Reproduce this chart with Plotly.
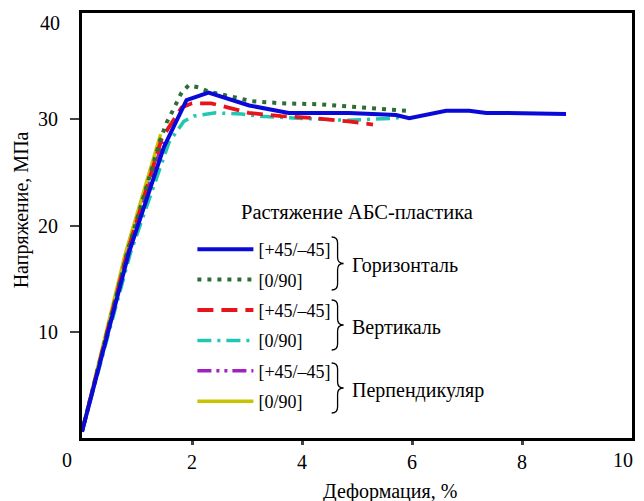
import plotly.graph_objects as go

# ---------------- data ----------------
blue_x = [0, 0.85, 1.49, 1.70, 1.90, 2.30, 3.04, 3.76, 4.85, 5.71, 5.95, 6.62, 7.04, 7.35, 7.71, 8.80]
blue_y = [0.6, 17.4, 27.4, 29.7, 31.8, 32.5, 31.3, 30.6, 30.6, 30.4, 30.1, 30.8, 30.8, 30.6, 30.6, 30.5]

green_x = [0, 0.82, 1.42, 1.54, 1.63, 1.72, 1.81, 1.94, 2.12, 2.30, 2.73, 3.09, 3.64, 4.36, 5.09, 5.89]
green_y = [0.6, 17.4, 28.0, 29.7, 30.6, 31.5, 32.5, 33.2, 33.0, 32.6, 32.1, 31.7, 31.5, 31.4, 31.1, 30.8]

red_x = [0, 0.82, 1.45, 1.81, 2.0, 2.35, 2.66, 3.03, 3.62, 4.24, 4.84, 5.29]
red_y = [0.6, 17.4, 28.2, 31.1, 31.5, 31.5, 31.1, 30.6, 30.3, 30.1, 29.8, 29.5]

cyan_x = [0, 0.88, 1.58, 1.85, 2.03, 2.43, 2.90, 3.21, 3.93, 4.84, 5.69, 5.80]
cyan_y = [0.6, 17.4, 27.8, 29.8, 30.3, 30.6, 30.5, 30.3, 30.1, 29.9, 30.1, 30.2]

purple_x = [0, 0.83, 1.47]
purple_y = [0.6, 17.4, 27.9]

yellow_x = [0, 0.79, 1.43]
yellow_y = [0.6, 17.4, 28.6]

series_names = ["[+45/–45]", "[0/90]", "[+45/–45]", "[0/90]", "[+45/–45]", "[0/90]"]
group_labels = ["Горизонталь", "Вертикаль", "Перпендикуляр"]
legend_title = "Растяжение АБС-пластика"
x_title = "Деформация, %"
y_title = "Напряжение, МПа"
x_ticks = [2, 4, 6, 8]
y_ticks = [10, 20, 30]
corner_labels = ["0", "10", "40"]

# ---------------- layout helpers ----------------
W, H = 644, 501
L, R, T, B = 82, 9, 13, 63
PW, PH = W - L - R, H - T - B
FONT = "Liberation Serif, Times New Roman, serif"


def px(x):
    return (x - L) / PW


def py(y):
    return (H - B - y) / PH


def brace(xl, y0, y1, w=12, r=6):
    xm = xl + w * 0.5
    xt = xl + w
    ym = (y0 + y1) / 2
    pts = [
        f"M{px(xl):.4f},{py(y0):.4f}",
        f"Q{px(xm):.4f},{py(y0):.4f} {px(xm):.4f},{py(y0 + r):.4f}",
        f"L{px(xm):.4f},{py(ym - r):.4f}",
        f"Q{px(xm):.4f},{py(ym):.4f} {px(xt):.4f},{py(ym):.4f}",
        f"Q{px(xm):.4f},{py(ym):.4f} {px(xm):.4f},{py(ym + r):.4f}",
        f"L{px(xm):.4f},{py(y1 - r):.4f}",
        f"Q{px(xm):.4f},{py(y1):.4f} {px(xl):.4f},{py(y1):.4f}",
    ]
    return " ".join(pts)


fig = go.Figure()

traces = [
    (yellow_x, yellow_y, "#c8c400", "solid", 3.5, 5),
    (purple_x, purple_y, "#a020c0", "14px,5px,3px,5px,3px,5px", 3.5, 4),
    (cyan_x, cyan_y, "#22c6b2", "14px,6px,3px,6px", 3.5, 3),
    (red_x, red_y, "#e8141c", "16px,8px", 3.8, 2),
    (green_x, green_y, "#2c6e33", "4px,6px", 4, 1),
    (blue_x, blue_y, "#0a0ad8", "solid", 4, 0),
]
for xs, ys, col, dash, lw, idx in traces:
    fig.add_trace(go.Scatter(
        x=xs, y=ys, mode="lines", name=series_names[idx],
        line=dict(color=col, dash=dash, width=lw),
        legendrank=idx + 1, legendgroup=f"g{idx}",
    ))

fig.update_layout(
    width=W, height=H,
    margin=dict(l=L, r=R, t=T, b=B),
    paper_bgcolor="white", plot_bgcolor="white",
    font=dict(family=FONT, color="black", size=16),
    showlegend=True,
    legend=dict(
        x=px(193), y=py(231), xanchor="left", yanchor="top",
        bgcolor="rgba(0,0,0,0)", font=dict(family=FONT, size=18),
        traceorder="grouped", tracegroupgap=4.0, itemwidth=56,
    ),
    xaxis=dict(
        range=[0, 10], tickvals=x_ticks, ticks="outside", ticklen=4, tickwidth=2.5,
        showline=True, linecolor="black", linewidth=3, mirror=True,
        showgrid=False, zeroline=False, tickfont=dict(size=20),
    ),
    yaxis=dict(
        range=[0, 40], tickvals=y_ticks, ticks="outside", ticklen=9, tickwidth=2,
        ticklabelstandoff=8,
        showline=True, linecolor="black", linewidth=3, mirror=True,
        showgrid=False, zeroline=False, tickfont=dict(size=20),
    ),
)

# corner tick labels, axis titles, legend title
for lab, (cx, cy) in zip(corner_labels, [(67, 460), (626, 460), (50, 23)]):
    fig.add_annotation(xref="paper", yref="paper", x=px(cx), y=py(cy), text=lab,
                       showarrow=False, font=dict(size=20), xanchor="center", yanchor="middle")
fig.add_annotation(xref="paper", yref="paper", x=px(392), y=py(491), text=x_title,
                   showarrow=False, font=dict(size=20), xanchor="center", yanchor="middle")
fig.add_annotation(xref="paper", yref="paper", x=px(21), y=py(210), text=y_title,
                   textangle=-90, showarrow=False, font=dict(size=20),
                   xanchor="center", yanchor="middle")
fig.add_annotation(xref="paper", yref="paper", x=px(240), y=py(212), text=legend_title,
                   showarrow=False, font=dict(size=20.5), xanchor="left", yanchor="middle")

brace_spans = [(237, 290), (300, 350), (363, 413)]
label_y = [265, 327, 390]
for (y0, y1), ly, lab in zip(brace_spans, label_y, group_labels):
    fig.add_shape(type="path", xref="paper", yref="paper", path=brace(333, y0, y1),
                  line=dict(color="black", width=1.3))
    fig.add_annotation(xref="paper", yref="paper", x=px(351), y=py(ly), text=lab,
                       showarrow=False, font=dict(size=20), xanchor="left", yanchor="middle")

fig.write_html("out.html", config={"displayModeBar": False},
               post_script="document.body.style.margin='0';")
